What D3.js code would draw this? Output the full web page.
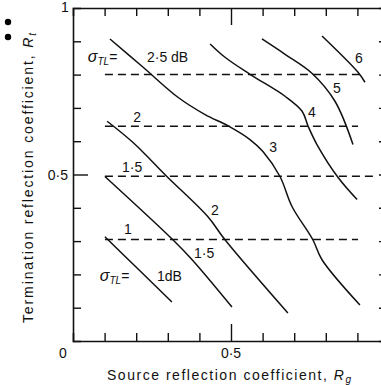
<!DOCTYPE html>
<html>
<head>
<meta charset="utf-8">
<script src="https://cdn.jsdelivr.net/npm/d3@7"></script>
<style>
  html, body { margin: 0; padding: 0; background: #fff; }
  svg { display: block; }
  text { font-family: "Liberation Sans", Arial, sans-serif; fill: #111; }
</style>
</head>
<body>
<div id="chart"></div>
<script>
// sigma_TL contours (solid), points read as [Rg, Rt]
const curveLabels = ["1", "1·5", "2", "3", "4", "5", "6"];
const curve1 = [[0.101, 0.313], [0.206, 0.216], [0.313, 0.117]];
const curve15 = [[0.101, 0.494], [0.316, 0.304], [0.377, 0.244], [0.503, 0.102]];
const curve2 = [[0.108, 0.660], [0.190, 0.596], [0.297, 0.494], [0.427, 0.373], [0.481, 0.304], [0.680, 0.084]];
const curve3 = [[0.117, 0.907], [0.222, 0.822], [0.332, 0.732], [0.418, 0.680], [0.491, 0.646], [0.560, 0.605],
                [0.601, 0.569], [0.655, 0.494], [0.693, 0.404], [0.759, 0.304], [0.788, 0.244], [0.908, 0.108]];
const curve4 = [[0.434, 0.892], [0.481, 0.852], [0.560, 0.801], [0.671, 0.735], [0.725, 0.690], [0.744, 0.645],
                [0.772, 0.590], [0.839, 0.491], [0.899, 0.425]];
const curve5 = [[0.598, 0.907], [0.671, 0.861], [0.756, 0.804], [0.829, 0.720], [0.886, 0.590]];
const curve6 = [[0.788, 0.916], [0.902, 0.807], [0.924, 0.777]];

// dashed levels: sigma_TL, Rt value, Rg range
const dashLabels = ["2·5", "2", "1·5", "1"];
const dashRt = [0.800, 0.645, 0.495, 0.305];
const dashFrom = [0.101, 0.101, 0.101, 0.101];
const dashTo = [0.908, 0.902, 0.965, 0.902];

const xTicks = [0.1, 0.2, 0.3, 0.4, 0.5, 0.6, 0.7, 0.8, 0.9];
const yTicks = [0.1, 0.2, 0.3, 0.4, 0.5, 0.6, 0.7, 0.8, 0.9];

const width = 381, height = 385;
const svg = d3.select("#chart").append("svg")
    .attr("width", width)
    .attr("height", height);

const x = d3.scaleLinear().domain([0, 1]).range([73, 389]);
const y = d3.scaleLinear().domain([0, 1]).range([341, 8]);

// stray bullets at top-left of the scan
svg.selectAll(".dot").data([22, 37]).enter().append("circle")
    .attr("cx", 8).attr("cy", d => d).attr("r", 3.2).attr("fill", "#000");

// frame with inward ticks
function styleAxis(g) {
    g.select(".domain").attr("stroke", "#111").attr("stroke-width", 1.6);
    g.selectAll(".tick line").attr("stroke", "#111").attr("stroke-width", 1.4);
    g.selectAll(".tick text").remove();
}
const bottomAxis = svg.append("g").attr("transform", `translate(0,${y(0)})`)
    .call(d3.axisTop(x).tickValues(xTicks).tickSizeOuter(0)
        .tickSize(8).tickFormat(""));
const topAxis = svg.append("g").attr("transform", `translate(0,${y(1)})`)
    .call(d3.axisBottom(x).tickValues(xTicks).tickSizeOuter(0)
        .tickSize(8).tickFormat(""));
const leftAxis = svg.append("g").attr("transform", `translate(${x(0)},0)`)
    .call(d3.axisRight(y).tickValues(yTicks).tickSizeOuter(0)
        .tickSize(8).tickFormat(""));
const rightAxis = svg.append("g").attr("transform", `translate(${x(1)},0)`)
    .call(d3.axisLeft(y).tickValues(yTicks).tickSizeOuter(0)
        .tickSize(10).tickFormat(""));
[bottomAxis, topAxis, leftAxis, rightAxis].forEach(g => styleAxis(g));
// longer tick at 0.5
bottomAxis.selectAll(".tick line").filter(d => d === 0.5).attr("y2", -17);
topAxis.selectAll(".tick line").filter(d => d === 0.5).attr("y2", 17);
leftAxis.selectAll(".tick line").filter(d => d === 0.5).attr("x2", 15);

// tick labels
const fs = 14;
svg.append("text").attr("x", x(0) - 10).attr("y", y(0) + 17)
    .attr("text-anchor", "middle").attr("font-size", fs).text("0");
svg.append("text").attr("x", x(0.5)).attr("y", y(0) + 17)
    .attr("text-anchor", "middle").attr("font-size", fs).text("0·5");
svg.append("text").attr("x", x(0) - 5).attr("y", y(0.5) + 5)
    .attr("text-anchor", "end").attr("font-size", fs).text("0·5");
svg.append("text").attr("x", x(0) - 8).attr("y", 12)
    .attr("text-anchor", "middle").attr("font-size", fs).text("1");

// axis titles
const xt = svg.append("text").attr("x", 229).attr("y", 380)
    .attr("text-anchor", "middle").attr("font-size", fs)
    .attr("textLength", 244).attr("lengthAdjust", "spacing");
xt.append("tspan").text("Source reflection coefficient, ");
xt.append("tspan").attr("font-style", "italic").text("R");
xt.append("tspan").attr("font-style", "italic").attr("font-size", 10).attr("dy", 3).text("g");

const yt = svg.append("text").attr("transform", "translate(33,178) rotate(-90)")
    .attr("text-anchor", "middle").attr("font-size", fs)
    .attr("textLength", 290).attr("lengthAdjust", "spacing");
yt.append("tspan").text("Termination reflection coefficient, ");
yt.append("tspan").attr("font-style", "italic").text("R");
yt.append("tspan").attr("font-style", "italic").attr("font-size", 10).attr("dy", 3).text("t");

// dashed levels
svg.selectAll(".level").data(dashRt).enter().append("line")
    .attr("class", "level")
    .attr("x1", (d, i) => x(dashFrom[i])).attr("x2", (d, i) => x(dashTo[i]))
    .attr("y1", d => y(d)).attr("y2", d => y(d))
    .attr("stroke", "#111").attr("stroke-width", 1.5)
    .attr("stroke-dasharray", "8,5");

// solid contours
const line = d3.line().x(d => x(d[0])).y(d => y(d[1])).curve(d3.curveCatmullRom.alpha(0.5));
const curves = [curve1, curve15, curve2, curve3, curve4, curve5, curve6];
svg.selectAll(".contour").data(curves).enter().append("path")
    .attr("class", "contour")
    .attr("d", line)
    .attr("fill", "none").attr("stroke", "#111").attr("stroke-width", 1.5);

// annotations: text, anchor in data units
const notes = [
    { t: dashLabels[1], at: [0.203, 0.673] },
    { t: dashLabels[2], at: [0.187, 0.523] },
    { t: dashLabels[3], at: [0.174, 0.337] },
    { t: curveLabels[1], at: [0.415, 0.265] },
    { t: curveLabels[2], at: [0.449, 0.394] },
    { t: curveLabels[3], at: [0.633, 0.583] },
    { t: curveLabels[4], at: [0.756, 0.688] },
    { t: curveLabels[5], at: [0.835, 0.760] },
    { t: curveLabels[6], at: [0.905, 0.850] }
];
svg.selectAll(".note").data(notes).enter().append("text")
    .attr("class", "note")
    .attr("x", d => x(d.at[0])).attr("y", d => y(d.at[1]) + 5)
    .attr("text-anchor", "middle").attr("font-size", fs)
    .text(d => d.t);

function sigmaLabel(xv, yv) {
    const t = svg.append("text").attr("x", x(xv)).attr("y", y(yv)).attr("font-size", fs);
    t.append("tspan").attr("font-style", "italic").attr("font-size", 16).text("σ");
    t.append("tspan").attr("font-style", "italic").attr("font-size", 10).attr("dy", 3).text("TL");
    t.append("tspan").attr("dy", -3).text("=");
    return t;
}
sigmaLabel(0.047, 0.838);
svg.append("text").attr("x", x(0.234)).attr("y", y(0.838)).attr("font-size", fs)
    .text(dashLabels[0] + " dB");
sigmaLabel(0.085, 0.180);
svg.append("text").attr("x", x(0.266)).attr("y", y(0.180)).attr("font-size", fs)
    .text(curveLabels[0] + "dB");
</script>
</body>
</html>
